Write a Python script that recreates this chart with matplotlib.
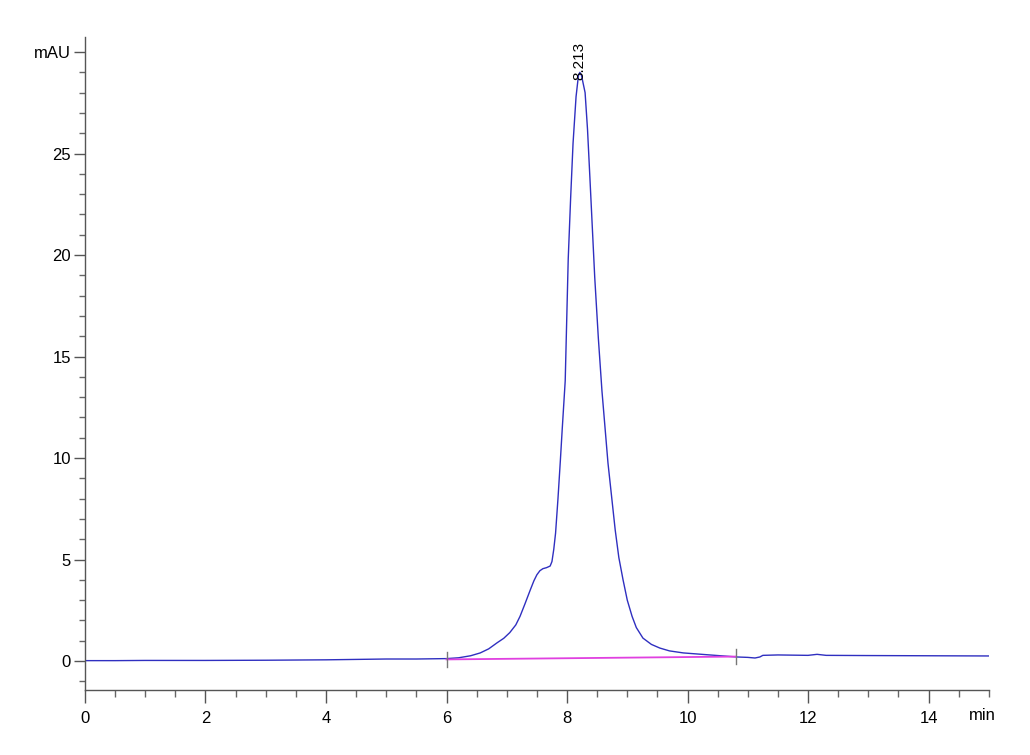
import matplotlib.pyplot as plt
from matplotlib import font_manager
from matplotlib.ticker import MultipleLocator

# chromatogram trace (min, mAU)
time_min = [0.0, 0.5, 1.0, 1.5, 2.0, 3.0, 3.5, 4.0, 5.0, 5.5, 6.0, 6.2, 6.4,
            6.56, 6.7, 6.84, 6.95, 7.05, 7.15, 7.22, 7.3, 7.39, 7.45, 7.5,
            7.55, 7.6, 7.66, 7.72, 7.75, 7.78, 7.81, 7.85, 7.89, 7.92, 7.97,
            8.02, 8.06, 8.10, 8.15, 8.19, 8.213, 8.24, 8.30, 8.34, 8.38, 8.46,
            8.52, 8.58, 8.68, 8.80, 8.86, 8.93, 9.0, 9.08, 9.15, 9.26, 9.4,
            9.54, 9.7, 9.93, 10.37, 10.82, 11.0, 11.12, 11.2, 11.25, 11.5,
            12.0, 12.15, 12.3, 13.0, 14.0, 15.0]
signal_mau = [0.02, 0.02, 0.03, 0.03, 0.03, 0.04, 0.05, 0.06, 0.1, 0.1, 0.12,
              0.16, 0.26, 0.4, 0.6, 0.9, 1.12, 1.4, 1.78, 2.2, 2.8, 3.5, 3.95,
              4.25, 4.45, 4.55, 4.6, 4.68, 4.9, 5.5, 6.3, 8.0, 9.9, 11.4, 13.8,
              19.8, 22.8, 25.5, 27.8, 28.85, 29.0, 28.85, 28.0, 26.2, 23.8,
              18.9, 15.9, 13.3, 9.75, 6.45, 5.1, 4.0, 3.0, 2.2, 1.65, 1.13,
              0.82, 0.64, 0.5, 0.4, 0.3, 0.2, 0.18, 0.15, 0.2, 0.28, 0.3, 0.28,
              0.33, 0.28, 0.27, 0.26, 0.25]

# integration baseline and peak marks
baseline_t = [6.0, 10.8]
baseline_y = [0.08, 0.22]
peak_rt = 8.213
peak_height = 29.0

names = {f.name for f in font_manager.fontManager.ttflist}
FONT = 'Liberation Sans Narrow' if 'Liberation Sans Narrow' in names else 'Liberation Sans'

fig = plt.figure(figsize=(10.3, 7.55), dpi=100)
ax = fig.add_axes([0.0825, 0.086, 0.8775, 0.865])

ax.plot(time_min, signal_mau, color='#2f2fc0', lw=1.0)
ax.plot(baseline_t, baseline_y, color='#e040e0', lw=1.3)

# start/end marks of the integrated peak
for t, yv in zip(baseline_t, baseline_y):
    ax.plot([t, t], [yv - 0.35, yv + 0.35], color='#777777', lw=1.0)

ax.text(peak_rt, peak_height - 0.4, f'{peak_rt:.3f}', rotation=90,
        ha='center', va='bottom', fontsize=11, family=FONT)

ax.set_xlim(0, 15)
ax.set_ylim(-1.43, 30.74)

ax.xaxis.set_major_locator(MultipleLocator(2))
ax.xaxis.set_minor_locator(MultipleLocator(0.5))
ax.set_yticks([0, 5, 10, 15, 20, 25, 30])
ax.set_yticklabels(['0', '5', '10', '15', '20', '25', 'mAU'])
ax.yaxis.set_minor_locator(MultipleLocator(1))

for s in ['top', 'right']:
    ax.spines[s].set_visible(False)
for s in ['left', 'bottom']:
    ax.spines[s].set_color('#555555')
    ax.spines[s].set_linewidth(1.0)

ax.tick_params(which='major', length=8, width=1.0, color='#555555',
               labelsize=12, pad=2)
ax.tick_params(which='minor', length=4, width=1.0, color='#666666')
ax.tick_params(axis='x', which='major', length=9, pad=6)
ax.tick_params(axis='x', which='minor', length=5)
for lab in ax.get_xticklabels() + ax.get_yticklabels():
    lab.set_family(FONT)

ax.text(14.67, -2.7, 'min', ha='left', va='center', fontsize=12, family=FONT)

fig.savefig('out.png', dpi=100)
